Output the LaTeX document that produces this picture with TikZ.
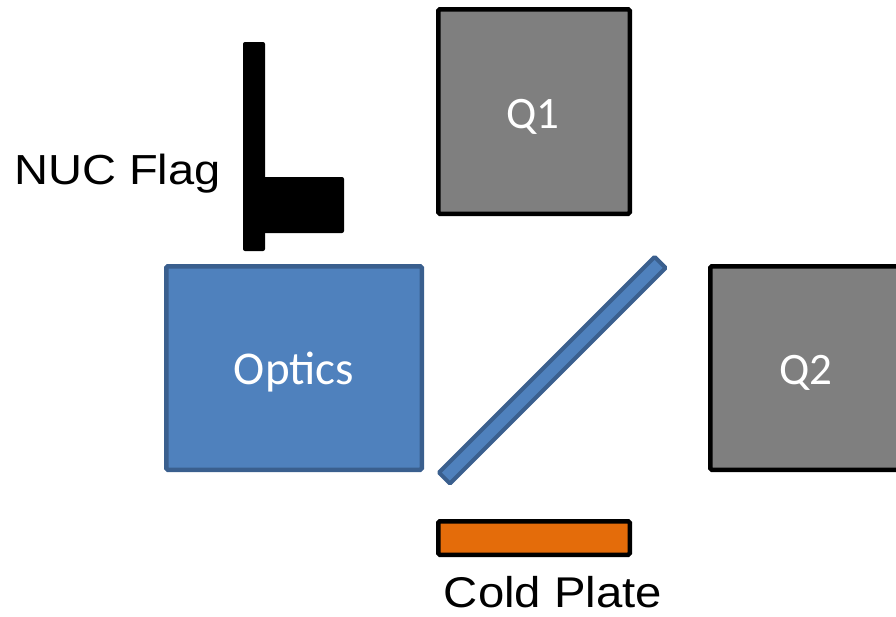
\documentclass[tikz,border=0pt]{standalone}
\usepackage{fontspec}
\setmainfont{Liberation Sans}
\newfontfamily\calfont{Carlito}
\definecolor{qgray}{HTML}{7F7F7F}
\definecolor{bfill}{HTML}{4F81BD}
\definecolor{bline}{HTML}{3A5F8E}
\definecolor{orng}{HTML}{E46C0A}
\tikzset{
  qbox/.style={draw=black, fill=qgray, line width=4.5pt, inner sep=0pt, outer sep=0pt, rounded corners=1.5pt},
  bluebox/.style={draw=bline, fill=bfill, line width=4.5pt, inner sep=0pt, outer sep=0pt, rounded corners=1.5pt},
  platebox/.style={draw=black, fill=orng, line width=4.5pt, inner sep=0pt, outer sep=0pt, rounded corners=1.5pt},
  flagpart/.style={fill=black, draw=none, inner sep=0pt, outer sep=0pt, rounded corners=2pt},
  whitelbl/.style={text=white, inner sep=0pt, anchor=base, font=\calfont\fontsize{45}{50}\selectfont},
  blacklbl/.style={text=black, inner sep=0pt, anchor=base, font=\fontsize{41}{46}\selectfont},
}
\begin{document}
\begin{tikzpicture}[x=1pt, y=-1pt]
\useasboundingbox (0,0) rectangle (896,616);
\clip (0,0) rectangle (896,616);
% Q1
\node[qbox, minimum width=191.5pt, minimum height=204.5pt] (q1) at (534,111.5) {};
\node[whitelbl] (q1t) at (533,128) {Q1};
% Q2
\node[qbox, minimum width=192pt, minimum height=203.5pt] (q2) at (806.25,368) {};
\node[whitelbl] (q2t) at (806,384) {Q2};
% Optics
\node[bluebox, minimum width=255.5pt, minimum height=203.5pt] (opt) at (294,368) {};
\node[whitelbl, font=\calfont\fontsize{47}{52}\selectfont] (optt) at (294,384) {Optics};
% diagonal mirror
\node[bluebox, line width=4pt, rounded corners=1pt, minimum width=305pt, minimum height=15.5pt, rotate=45] (mir) at (552.25,370.25) {};
% NUC flag
\node[flagpart, minimum width=22pt, minimum height=209pt] (flagpole) at (254,146.5) {};
\node[flagpart, minimum width=81pt, minimum height=56pt] (flagblock) at (303.5,205) {};
\node[blacklbl, font=\fontsize{42}{46}\selectfont, xscale=1.12] (nuc) at (117.5,184) {NUC Flag};
% Cold plate
\node[platebox, minimum width=191.5pt, minimum height=33.5pt] (cold) at (534,538) {};
\node[blacklbl, font=\fontsize{43}{48}\selectfont, xscale=1.1] (coldt) at (553,607) {Cold Plate};
\end{tikzpicture}
\end{document}
